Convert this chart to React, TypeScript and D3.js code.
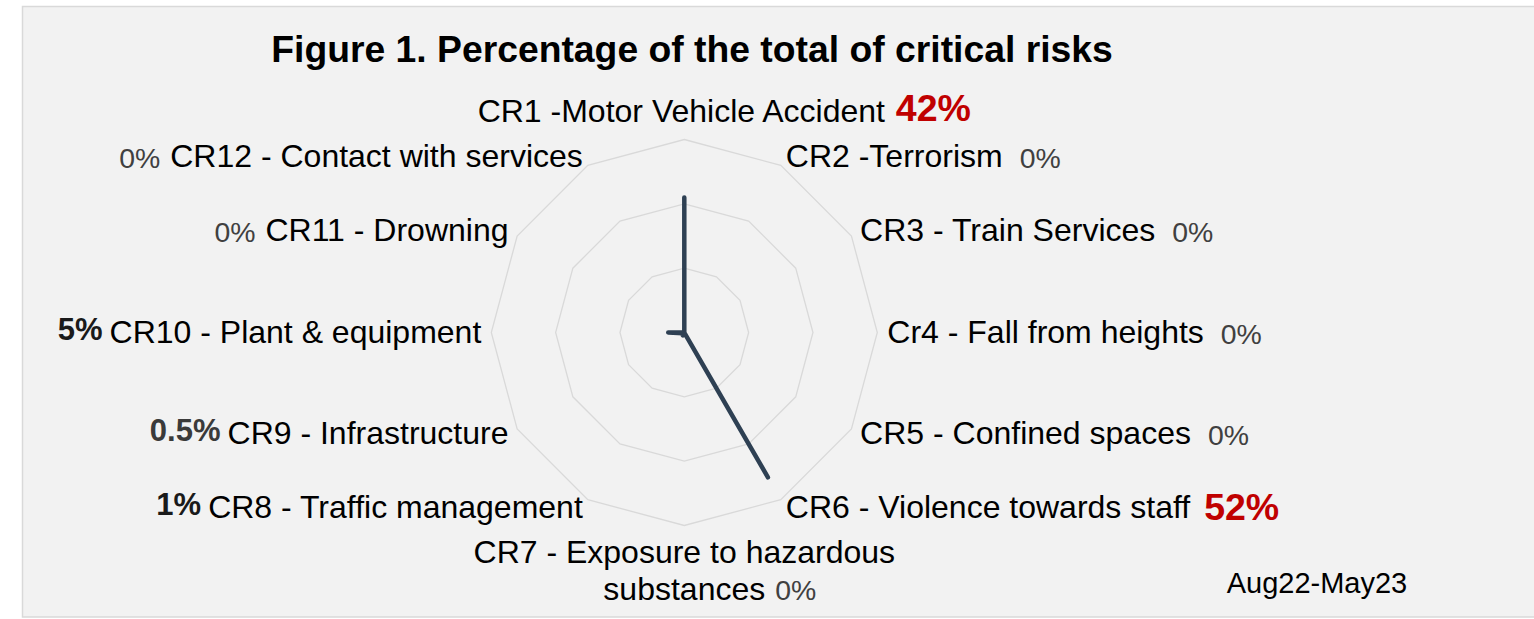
import React from "react";
import * as d3 from "d3";

const categories = [
  "CR1 -Motor Vehicle Accident",
  "CR2 -Terrorism",
  "CR3 - Train Services",
  "Cr4 - Fall from heights",
  "CR5 - Confined spaces",
  "CR6 - Violence towards staff",
  "CR7 - Exposure to hazardous\nsubstances",
  "CR8 - Traffic management",
  "CR9 - Infrastructure",
  "CR10 - Plant & equipment",
  "CR11 - Drowning",
  "CR12 - Contact with services",
];
const values = [42, 0, 0, 0, 0, 52, 0, 1, 0.5, 5, 0, 0];
const valueLabels = ["42%", "0%", "0%", "0%", "0%", "52%", "0%", "1%", "0.5%", "5%", "0%", "0%"];
const gridTicks = [20, 40, 60];
const title = "Figure 1. Percentage of the total of critical risks";
const periodLabel = "Aug22-May23";

const W = 1534;
const H = 619;
const cx = 684.3;
const cy = 332.5;
const rMax = 193;
const labelR = 203;
const LABEL_SIZE = 32;
const FONT = "'Liberation Sans', Arial, Helvetica, sans-serif";

export default function App() {
  const n = categories.length;
  const r = d3.scaleLinear().domain([0, 60]).range([0, rMax]);
  const angle = d3
    .scaleLinear()
    .domain([0, n])
    .range([0, 2 * Math.PI]);

  const gridLine = d3
    .lineRadial<number>()
    .angle((_, i) => angle(i))
    .radius((d) => r(d))
    .curve(d3.curveLinearClosed);

  const dataLine = d3
    .lineRadial<number>()
    .angle((_, i) => angle(i))
    .radius((d) => r(d))
    .curve(d3.curveLinearClosed);

  const valueStyle = (v: number) => {
    if (v >= 40)
      return { fontSize: 37.5, fontWeight: 700, fill: "#c00000", dy: 0 };
    if (v > 0) return { fontSize: 31, fontWeight: 700, fill: v < 1 ? "#3a3a3a" : "#1a1a1a", dy: -3 };
    return { fontSize: 28.4, fontWeight: 400, fill: "#404040", dy: 1 };
  };

  const labels = categories.map((cat, i) => {
    const a = angle(i);
    const s = Math.sin(a);
    const c = Math.cos(a);
    const vs = valueStyle(values[i]);
    const vl = valueLabels[i];
    const lines = cat.split("\n");
    const key = `lab-${i}`;
    if (Math.abs(s) < 1e-6) {
      if (c > 0) {
        const y = cy - labelR - 8;
        return (
          <g key={key}>
            <text x={cx - 3} y={y} textAnchor="middle" fontSize={LABEL_SIZE} fill="#000">
              {lines[0]}
            </text>
            <text
              x={cx + 211.5}
              y={y - 1}
              textAnchor="start"
              fontSize={vs.fontSize}
              fontWeight={vs.fontWeight}
              fill={vs.fill}
            >
              {vl}
            </text>
          </g>
        );
      }
      const y0 = cy + labelR + 27;
      return (
        <g key={key}>
          {lines.map((ln, j) => (
            <text key={j} x={cx} y={y0 + j * 37.5} textAnchor="middle" fontSize={LABEL_SIZE} fill="#000">
              {ln}
            </text>
          ))}
          <text
            x={cx + 91}
            y={y0 + (lines.length - 1) * 37.5}
            textAnchor="start"
            fontSize={vs.fontSize}
            fontWeight={vs.fontWeight}
            fill={vs.fill}
          >
            {vl}
          </text>
        </g>
      );
    }
    const x = cx + labelR * s;
    const y = cy - labelR * c + 10;
    if (s > 0) {
      return (
        <text key={key} x={x} y={y} textAnchor="start" fontSize={LABEL_SIZE} fill="#000">
          <tspan>{lines[0]}</tspan>
          <tspan
            dx={values[i] >= 40 ? 14 : 17}
            dy={values[i] >= 40 ? 2 : 1}
            fontSize={vs.fontSize}
            fontWeight={vs.fontWeight}
            fill={vs.fill}
          >
            {vl}
          </tspan>
        </text>
      );
    }
    return (
      <text key={key} x={x} y={y} textAnchor="end" fontSize={LABEL_SIZE} fill="#000">
        <tspan dy={vs.dy} fontSize={vs.fontSize} fontWeight={vs.fontWeight} fill={vs.fill}>
          {vl}
        </tspan>
        <tspan dx={values[i] > 0 ? 7 : 10} dy={-vs.dy}>
          {lines[0]}
        </tspan>
      </text>
    );
  });

  return (
    <svg
      width={W}
      height={H}
      style={{ position: "absolute", left: 0, top: 0, fontFamily: FONT }}
    >
      <rect x={0} y={0} width={W} height={H} fill="#ffffff" />
      <rect
        x={22.5}
        y={6.5}
        width={W}
        height={610.5}
        fill="#f2f2f2"
        stroke="#d9d9d9"
        strokeWidth={1.5}
      />
      <text
        x={692}
        y={61.7}
        textAnchor="middle"
        fontSize={37.3}
        fontWeight={700}
        fill="#000"
      >
        {title}
      </text>
      <g transform={`translate(${cx},${cy})`}>
        {gridTicks.map((t) => (
          <path
            key={t}
            d={gridLine(categories.map(() => t)) || ""}
            fill="none"
            stroke="#d9d9d9"
            strokeWidth={1.3}
          />
        ))}
        <path
          d={dataLine(values) || ""}
          fill="none"
          stroke="#2e4053"
          strokeWidth={4.5}
          strokeLinejoin="round"
          strokeLinecap="round"
        />
      </g>
      {labels}
      <text x={1226.7} y={593.3} fontSize={29} fill="#000">
        {periodLabel}
      </text>
    </svg>
  );
}
